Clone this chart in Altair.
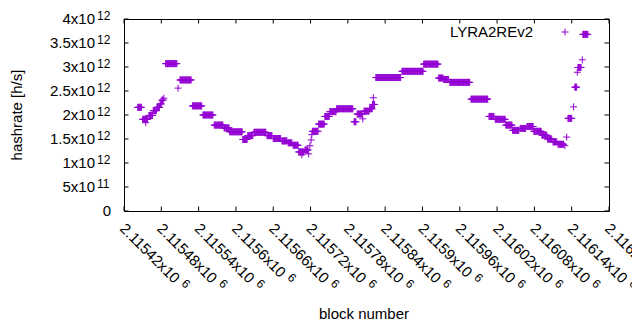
import altair as alt
import pandas as pd

# ---- data (hashrate in units of 1e12 h/s) ----
run_start = [2115442, 2115450, 2115460, 2115467, 2115473, 2115478, 2115481, 2115487,
             2115510, 2115530, 2115547, 2115565, 2115581, 2115590, 2115611, 2115619,
             2115629, 2115650, 2115660, 2115674, 2115684, 2115692, 2115701, 2115711,
             2115723, 2115733, 2115743, 2115751, 2115762, 2115790, 2115795, 2115806,
             2115815, 2115820, 2115825, 2115867, 2115902, 2115926, 2115934, 2115944,
             2115978, 2116007, 2116017, 2116034, 2116045, 2116057, 2116068, 2116079,
             2116092, 2116101, 2116110, 2116118, 2116134, 2116145, 2116150, 2116158]
run_end = [2115448, 2115458, 2115466, 2115472, 2115477, 2115480, 2115483, 2115505,
           2115528, 2115545, 2115563, 2115579, 2115589, 2115610, 2115618, 2115627,
           2115648, 2115658, 2115672, 2115682, 2115690, 2115700, 2115709, 2115716,
           2115732, 2115742, 2115750, 2115761, 2115788, 2115793, 2115803, 2115814,
           2115819, 2115823, 2115865, 2115901, 2115925, 2115933, 2115942, 2115976,
           2116005, 2116015, 2116033, 2116044, 2116055, 2116066, 2116078, 2116091,
           2116100, 2116108, 2116116, 2116127, 2116140, 2116148, 2116155, 2116166]
run_value = [2.16, 1.91, 1.99, 2.09, 2.16, 2.23, 2.31, 3.07,
             2.73, 2.19, 2.00, 1.79, 1.73, 1.65, 1.49, 1.57,
             1.64, 1.57, 1.51, 1.46, 1.42, 1.37, 1.23, 1.27,
             1.66, 1.81, 1.97, 2.07, 2.13, 1.86, 2.02, 2.08,
             2.13, 2.22, 2.78, 2.91, 3.06, 2.77, 2.74, 2.68,
             2.33, 1.97, 1.91, 1.79, 1.68, 1.72, 1.76, 1.66,
             1.58, 1.50, 1.44, 1.39, 1.93, 2.58, 2.99, 3.68]
single_block = [2115455, 2115484, 2115507, 2115706, 2115717, 2115719, 2115721, 2115722,
                2115804, 2115821, 2116129, 2116132, 2116143, 2116149, 2116157]
single_value = [1.84, 2.35, 2.56, 1.17, 1.19, 1.36, 1.48, 1.59,
                1.92, 2.36, 1.36, 1.54, 2.17, 2.89, 3.15]

x_ticks = [2115420, 2115480, 2115540, 2115600, 2115660, 2115720, 2115780,
           2115840, 2115900, 2115960, 2116020, 2116080, 2116140, 2116200]
x_tick_labels = ["2.11542x10", "2.11548x10", "2.11554x10", "2.1156x10", "2.11566x10",
                 "2.11572x10", "2.11578x10", "2.11584x10", "2.1159x10", "2.11596x10",
                 "2.11602x10", "2.11608x10", "2.11614x10", "2.1162x10"]
x_tick_exp = "6"
y_ticks = [0, 0.5e12, 1e12, 1.5e12, 2e12, 2.5e12, 3e12, 3.5e12, 4e12]
y_tick_labels = ["0", "5x10", "1x10", "1.5x10", "2x10", "2.5x10", "3x10", "3.5x10", "4x10"]
y_tick_exps = ["", "11", "12", "12", "12", "12", "12", "12", "12"]

series_name = "LYRA2REv2"
x_title = "block number"
y_title = "hashrate [h/s]"

# ---- build tables ----
rows = []
for s, e, v in zip(run_start, run_end, run_value):
    for b in range(s, e + 1):
        rows.append((b, v * 1e12))
for b, v in zip(single_block, single_value):
    rows.append((b, v * 1e12))
df = pd.DataFrame(rows, columns=["block", "hashrate"])

xt = pd.DataFrame({"v": x_ticks, "label": x_tick_labels, "exp": [x_tick_exp] * len(x_ticks)})
yt = pd.DataFrame({"v": y_ticks, "label": y_tick_labels, "exp": y_tick_exps})

W, H = 485, 192
FONT = "Liberation Sans"
FS = 15
EFS = 12
COLOR = "#9400D3"
PLUS = "M-1,0H1M0,-1V1"
TL = 4.5

xs = alt.Scale(domain=[2115420, 2116200], nice=False, zero=False)
ys = alt.Scale(domain=[0, 4e12], nice=False)

X = lambda f: alt.X(f, scale=xs, axis=None)
Y = lambda f: alt.Y(f, scale=ys, axis=None)

points = alt.Chart(df).mark_point(shape=PLUS, size=49, filled=False, stroke=COLOR,
                                  strokeWidth=1, opacity=1).encode(
    x=X("block:Q"), y=Y("hashrate:Q"))

xbase = alt.Chart(xt)
tick_b = xbase.mark_rule(color="black", strokeWidth=1).encode(
    x=X("v:Q"), y=alt.value(H), y2=alt.value(H - TL))
tick_t = xbase.mark_rule(color="black", strokeWidth=1).encode(
    x=X("v:Q"), y=alt.value(0), y2=alt.value(TL))

ybase = alt.Chart(yt)
tick_l = ybase.mark_rule(color="black", strokeWidth=1).encode(
    y=Y("v:Q"), x=alt.value(0), x2=alt.value(TL))
tick_r = ybase.mark_rule(color="black", strokeWidth=1).encode(
    y=Y("v:Q"), x=alt.value(W), x2=alt.value(W - TL))

xlab = xbase.mark_text(align="left", baseline="middle", angle=45, font=FONT, fontSize=FS,
                       color="black", dx=-1, dy=1).encode(
    x=X("v:Q"), y=alt.value(H + 15), text="label:N")
W_LONG = 5.226 * FS
W_SHORT = 4.67 * FS
xexp_long = xbase.transform_filter("length(datum.label) == 10").mark_text(
    align="left", baseline="middle", angle=45, font=FONT, fontSize=EFS, color="black",
    dx=W_LONG + 3, dy=-3).encode(x=X("v:Q"), y=alt.value(H + 15), text="exp:N")
xexp_short = xbase.transform_filter("length(datum.label) == 9").mark_text(
    align="left", baseline="middle", angle=45, font=FONT, fontSize=EFS, color="black",
    dx=W_SHORT + 3, dy=-3).encode(x=X("v:Q"), y=alt.value(H + 15), text="exp:N")

ylab = ybase.transform_filter("datum.exp != ''").mark_text(
    align="right", baseline="middle", font=FONT, fontSize=FS, color="black").encode(
    y=Y("v:Q"), x=alt.value(-29), text="label:N")
ylab0 = ybase.transform_filter("datum.exp == ''").mark_text(
    align="right", baseline="middle", font=FONT, fontSize=FS, color="black").encode(
    y=Y("v:Q"), x=alt.value(-13), text="label:N")
yexp = ybase.transform_filter("datum.exp != ''").mark_text(
    align="left", baseline="middle", font=FONT, fontSize=EFS, color="black", dy=-3).encode(
    y=Y("v:Q"), x=alt.value(-27), text="exp:N")

tdf = pd.DataFrame({"t": [0]})
xtitle = alt.Chart(tdf).mark_text(align="center", baseline="middle", font=FONT, fontSize=FS,
                                  color="black").encode(
    x=alt.value(240), y=alt.value(295), text=alt.value(x_title))
ytitle = alt.Chart(tdf).mark_text(align="center", baseline="middle", font=FONT, fontSize=FS,
                                  color="black", angle=270).encode(
    x=alt.value(-107), y=alt.value(96), text=alt.value(y_title))
legtext = alt.Chart(tdf).mark_text(align="right", baseline="middle", font=FONT, fontSize=FS,
                                   color="black").encode(
    x=alt.value(409), y=alt.value(13), text=alt.value(series_name))
legkey = alt.Chart(tdf).mark_point(shape=PLUS, size=49, filled=False, stroke=COLOR,
                                   strokeWidth=1, opacity=1).encode(
    x=alt.value(441), y=alt.value(13))

chart = alt.layer(
    tick_b, tick_t, tick_l, tick_r, points,
    xlab, xexp_long, xexp_short, ylab, ylab0, yexp,
    xtitle, ytitle, legtext, legkey
).properties(
    width=W, height=H,
    padding={"left": 116, "top": 11, "right": 23, "bottom": 111},
    autosize=alt.AutoSizeParams(type="none"),
).configure_view(stroke="black", strokeWidth=1)

chart.save("out.html", embed_options={"renderer": "svg", "actions": False})
